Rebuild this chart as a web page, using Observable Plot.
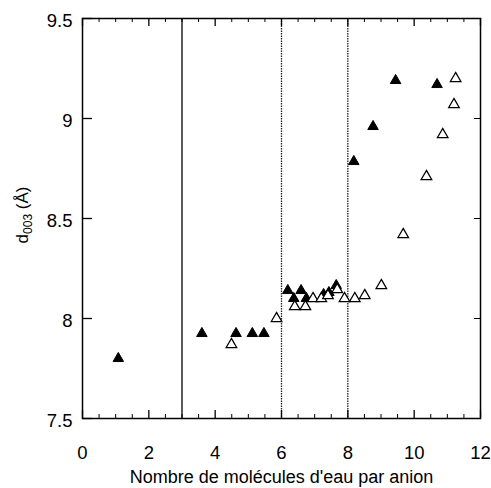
<!DOCTYPE html>
<html><head><meta charset="utf-8">
<script src="https://cdn.jsdelivr.net/npm/d3@7"></script>
<script src="https://cdn.jsdelivr.net/npm/@observablehq/plot@0.6"></script>
<style>
body{margin:0;background:#fff}
svg{font-family:"Liberation Sans",Arial,sans-serif}
svg [aria-label="x-axis tick label"], svg [aria-label="y-axis tick label"]{font-size:18.5px}
svg [aria-label="x-axis label"]{font-size:18px}
</style>
</head><body><div id="chart"></div>
<script>
// Filled triangles
const filledX = [1.08, 3.6, 4.63, 5.12, 5.47, 6.19, 6.37, 6.59, 6.75, 7.27, 7.43, 7.65, 8.18, 8.76, 9.44, 10.69];
const filledY = [7.80, 7.925, 7.925, 7.925, 7.925, 8.14, 8.10, 8.14, 8.10, 8.12, 8.13, 8.165, 8.785, 8.96, 9.19, 9.17];
// Open triangles
const openX = [4.49, 5.85, 6.40, 6.72, 6.95, 7.20, 7.40, 7.68, 7.90, 8.21, 8.51, 9.01, 9.67, 10.37, 10.86, 11.2, 11.25];
const openY = [7.87, 8.0, 8.06, 8.06, 8.10, 8.10, 8.115, 8.145, 8.10, 8.10, 8.115, 8.165, 8.42, 8.71, 8.92, 9.07, 9.2];
// Phase boundaries
const solidBoundary = [3];
const dottedBoundaries = [6, 8];
// Ticks
const xTicks = [0, 2, 4, 6, 8, 10, 12];
const xMinorTicks = [0.5,1,1.5,2.5,3,3.5,4.5,5,5.5,6.5,7,7.5,8.5,9,9.5,10.5,11,11.5];
const yTicks = [7.5, 8, 8.5, 9, 9.5];
const xLabel = "Nombre de molécules d'eau par anion";

const W = 491, H = 488, mL = 82, mR = 11, mT = 18, mB = 70;
const fw = W - mL - mR, fh = H - mT - mB;

const filled = filledX.map((x, i) => ({x, y: filledY[i]}));
const open = openX.map((x, i) => ({x, y: openY[i]}));

const chart = Plot.plot({
  width: W, height: H,
  marginLeft: mL, marginRight: mR, marginTop: mT, marginBottom: mB,
  style: {fontFamily: "'Liberation Sans', Arial, sans-serif", color: "black", background: "white"},
  x: {domain: [0, 12]},
  y: {domain: [7.5, 9.5]},
  marks: [
    Plot.ruleX(solidBoundary, {stroke: "black", strokeWidth: 1.3}),
    Plot.ruleX(dottedBoundaries, {stroke: "#222", strokeWidth: 1.3, strokeDasharray: "1.5,1"}),
    // inward ticks bottom/top
    Plot.tickX(xMinorTicks, {x: d => d, insetTop: fh - 4, stroke: "black"}),
    Plot.tickX(xTicks, {x: d => d, insetTop: fh - 8, stroke: "black", strokeWidth: 1.3}),
    Plot.tickX(xMinorTicks, {x: d => d, insetBottom: fh - 4, stroke: "black"}),
    Plot.tickX(xTicks, {x: d => d, insetBottom: fh - 8, stroke: "black", strokeWidth: 1.3}),
    // inward ticks left/right
    Plot.tickY(yTicks, {y: d => d, insetRight: fw - 10, stroke: "black", strokeWidth: 1.3}),
    Plot.tickY(yTicks, {y: d => d, insetLeft: fw - 6, stroke: "black"}),
    Plot.axisX({ticks: xTicks, tickSize: 0, tickPadding: 27, label: xLabel, labelAnchor: "center", labelArrow: "none", labelOffset: 64}),
    Plot.axisY({ticks: yTicks, tickSize: 0, tickPadding: 10, dy: 3, label: null, tickFormat: d => String(d)}),
    Plot.frame({stroke: "black", strokeWidth: 1.5}),
    Plot.dot(filled, {x: "x", y: "y", symbol: "triangle", r: 3.9, fill: "black", stroke: "black", strokeWidth: 1}),
    Plot.dot(open, {x: "x", y: "y", symbol: "triangle", r: 3.9, fill: "white", stroke: "black", strokeWidth: 1.3})
  ]
});

// y-axis label with subscript
const svg = d3.select(chart);
const t = svg.append("text")
  .attr("transform", "translate(28,215) rotate(-90)")
  .attr("text-anchor", "middle")
  .attr("font-size", 17)
  .attr("fill", "black");
t.append("tspan").text("d");
t.append("tspan").attr("font-size", 12).attr("dy", 4).text("003");
t.append("tspan").attr("dy", -4).text(" (Å)");

document.getElementById("chart").appendChild(chart);
</script>
</body></html>
